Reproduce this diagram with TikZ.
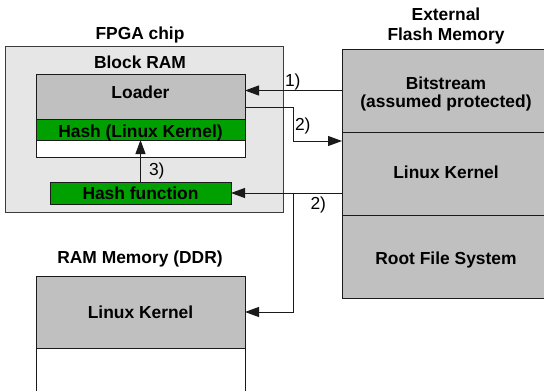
\documentclass[tikz,border=0pt]{standalone}
\usepackage{fontspec}
\setmainfont{Liberation Sans}
\usetikzlibrary{arrows.meta}
\definecolor{memgray}{HTML}{C0C0C0}
\definecolor{chipgray}{HTML}{E6E6E6}
\definecolor{hashgreen}{HTML}{00A000}
\definecolor{edge}{HTML}{1A1A1A}
\begin{document}
\begin{tikzpicture}[x=1pt,y=-1pt,
  every node/.style={inner sep=0pt, outer sep=0pt},
  blk/.style={draw=edge, line width=1pt, rectangle},
  title/.style={font=\fontsize{17.4}{20}\selectfont\bfseries, anchor=base},
  lbl/.style={font=\fontsize{17.4}{20}\selectfont, anchor=base west},
  arr/.style={draw=edge, line width=1pt, -{Triangle[length=14pt,width=10pt]}},
  wire/.style={draw=edge, line width=1pt}]
\useasboundingbox (0,0) rectangle (544,391);
\clip (0,0) rectangle (544,391);
% FPGA chip
\node[blk, draw=edge!85, fill=chipgray, minimum width=278pt, minimum height=166pt] (chip) at (144,129) {};
\node[title] (chipt) at (140,39) {FPGA chip};
\node[title] (bramt) at (140,68) {Block RAM};
\node[blk, fill=memgray, minimum width=209pt, minimum height=45pt] (loader) at (140.5,96.5) {};
\node[blk, fill=hashgreen, minimum width=209pt, minimum height=21pt] (hashk) at (140.5,129.5) {};
\node[blk, fill=white, minimum width=209pt, minimum height=17pt] (bfree) at (140.5,148.5) {};
\node[title] (loadert) at (140.5,98) {Loader};
\node[title] (hashkt) at (140.5,137) {Hash (Linux Kernel)};
\node[blk, fill=hashgreen, minimum width=181pt, minimum height=22pt] (hashf) at (140.5,193) {};
\node[title] (hashft) at (140.5,199) {Hash function};
% Flash
\node[title] (flasht1) at (446,20) {External};
\node[title] (flasht2) at (446,40) {Flash Memory};
\node[blk, fill=memgray, minimum width=202pt, minimum height=83pt] (bit) at (443,90.5) {};
\node[blk, fill=memgray, minimum width=202pt, minimum height=83pt] (kern) at (443,173.5) {};
\node[blk, fill=memgray, minimum width=202pt, minimum height=83pt] (rootfs) at (443,256.5) {};
\node[title] (bitt1) at (446,89) {Bitstream};
\node[title] (bitt2) at (446,107.5) {(assumed protected)};
\node[title] (kernt) at (446,178) {Linux Kernel};
\node[title] (rootfst) at (446,264) {Root File System};
% RAM
\node[title] (ramt) at (140,263) {RAM Memory (DDR)};
\node[blk, fill=memgray, minimum width=209pt, minimum height=72pt] (ramk) at (140.5,312) {};
\node[title] (ramkt) at (140.5,318) {Linux Kernel};
\draw[wire] (ramk.south west) -- ++(0,50);
\draw[wire] (ramk.south east) -- ++(0,50);
% connectors
\coordinate (p2a) at (245,107.5);
\coordinate (p2b) at (293,141);
\coordinate (p2c) at (342,141);
\coordinate (p3a) at (342,193);
\coordinate (p3b) at (293,193);
\coordinate (p3c) at (293,312);
\draw[arr] (bit.west) -- (bit.west -| loader.east);
\draw[arr] (p2a) -| (p2b) -- (p2c);
\draw[arr] (p3a) -- (hashf.east);
\draw[arr] (p3b) -- (p3c) -- (ramk.east);
\draw[arr] (hashf.north) -- (hashk.south);
\node[lbl] (l1) at (285,86) {1)};
\node[lbl] (l2a) at (295,130) {2)};
\node[lbl] (l2b) at (310.5,209) {2)};
\node[lbl] (l3) at (149,175) {3)};
\end{tikzpicture}
\end{document}
